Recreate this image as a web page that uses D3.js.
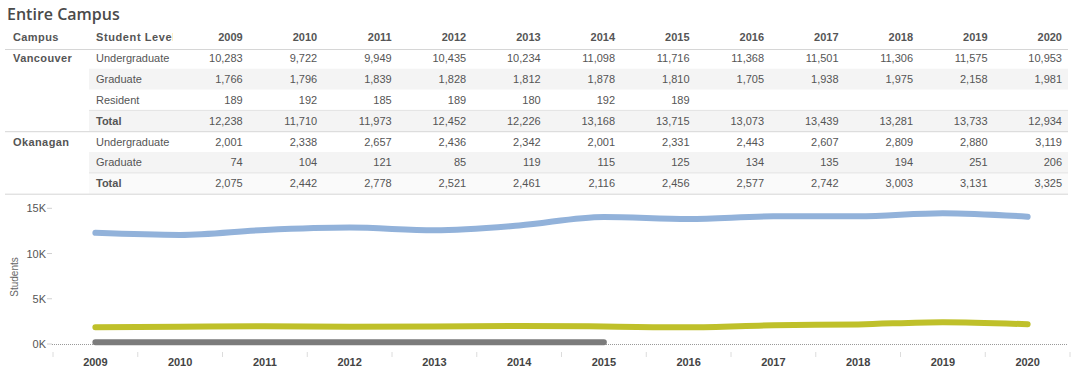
<!DOCTYPE html>
<html>
<head>
<meta charset="utf-8">
<script src="https://cdn.jsdelivr.net/npm/d3@7"></script>
<style>
  html, body { margin: 0; padding: 0; background: #fff; }
  svg { display: block; }
  text { font-family: "Liberation Sans", Arial, sans-serif; }
  text.title { font-family: "Open Sans", sans-serif; }
</style>
</head>
<body>
<svg id="chart" width="1080" height="383"></svg>
<script>
// ---------- data ----------
const years = [2009, 2010, 2011, 2012, 2013, 2014, 2015, 2016, 2017, 2018, 2019, 2020];
const vanUndergrad = [10283, 9722, 9949, 10435, 10234, 11098, 11716, 11368, 11501, 11306, 11575, 10953];
const vanGraduate  = [1766, 1796, 1839, 1828, 1812, 1878, 1810, 1705, 1938, 1975, 2158, 1981];
const vanResident  = [189, 192, 185, 189, 180, 192, 189, null, null, null, null, null];
const vanTotal     = [12238, 11710, 11973, 12452, 12226, 13168, 13715, 13073, 13439, 13281, 13733, 12934];
const okaUndergrad = [2001, 2338, 2657, 2436, 2342, 2001, 2331, 2443, 2607, 2809, 2880, 3119];
const okaGraduate  = [74, 104, 121, 85, 119, 115, 125, 134, 135, 194, 251, 206];
const okaTotal     = [2075, 2442, 2778, 2521, 2461, 2116, 2456, 2577, 2742, 3003, 3131, 3325];
const yTicks = [0, 5000, 10000, 15000];
const yTickLabels = ["0K", "5K", "10K", "15K"];

const tableRows = [
  { campus: "Vancouver", level: "Undergraduate", values: vanUndergrad, total: false },
  { campus: "",          level: "Graduate",      values: vanGraduate,  total: false },
  { campus: "",          level: "Resident",      values: vanResident,  total: false },
  { campus: "",          level: "Total",         values: vanTotal,     total: true },
  { campus: "Okanagan",  level: "Undergraduate", values: okaUndergrad, total: false },
  { campus: "",          level: "Graduate",      values: okaGraduate,  total: false },
  { campus: "",          level: "Total",         values: okaTotal,     total: true }
];
const shadedRows = [1, 3, 5];

// chart series aggregated by student level across campuses
const series = [
  { name: "Undergraduate", color: "#92b2da", values: years.map((y, i) => vanUndergrad[i] + okaUndergrad[i]) },
  { name: "Graduate",      color: "#bfc02a", values: years.map((y, i) => vanGraduate[i] + okaGraduate[i]) },
  { name: "Resident",      color: "#7c7c7c", values: vanResident }
];

const svg = d3.select("#chart");
const fmt = d3.format(",");
const textCol = "#555";

// ---------- title ----------
svg.append("text").attr("class", "title").attr("x", 7).attr("y", 20)
  .attr("font-size", 16).attr("font-weight", 600).attr("fill", "#4a4a4a")
  .text("Entire Campus");

// ---------- table ----------
const colX = d3.scalePoint().domain(years).range([242.7, 1062]);
const rowY = d3.scaleLinear().domain([0, 6]).range([58.3, 183.3]);
const rowH = 20.8;
const tableLeft = 5, tableRight = 1068, levelLeft = 89;

// shading
svg.append("g").selectAll("rect").data(shadedRows).join("rect")
  .attr("x", levelLeft).attr("width", tableRight - levelLeft)
  .attr("y", d => rowY(d) - rowH / 2).attr("height", rowH)
  .attr("fill", "#f4f4f4");
svg.append("rect").attr("x", levelLeft).attr("width", tableRight - levelLeft)
  .attr("y", rowY(6) - rowH / 2).attr("height", rowH).attr("fill", "#fafafa");

// lines
const hLines = [
  { y: 49.5, x0: tableLeft, c: "#d6d6d6" },
  { y: rowY(3) + rowH / 2 + 0.5, x0: tableLeft, c: "#d6d6d6" },
  { y: rowY(6) + rowH / 2 + 0.5, x0: tableLeft, c: "#d6d6d6" },
  { y: rowY(3) - rowH / 2, x0: levelLeft, c: "#e2e2e2" },
  { y: rowY(6) - rowH / 2, x0: levelLeft, c: "#e2e2e2" }
];
svg.append("g").selectAll("line").data(hLines).join("line")
  .attr("x1", d => d.x0).attr("x2", tableRight)
  .attr("y1", d => d.y).attr("y2", d => d.y)
  .attr("stroke", d => d.c).attr("stroke-width", 1);

// header
const header = svg.append("g").attr("font-size", 11).attr("font-weight", "bold").attr("fill", textCol);
header.append("text").attr("x", 13).attr("y", 41).attr("letter-spacing", 0.4).text("Campus");
svg.append("clipPath").attr("id", "lvlclip").append("rect").attr("x", 90).attr("y", 25).attr("width", 83).attr("height", 20);
header.append("text").attr("x", 96).attr("y", 41).attr("letter-spacing", 0.6).attr("clip-path", "url(#lvlclip)").text("Student Level");
header.selectAll(".yh").data(years).join("text").attr("class", "yh")
  .attr("x", d => colX(d)).attr("y", 41).attr("text-anchor", "end").text(d => d);

// body
const body = svg.append("g").attr("font-size", 11).attr("fill", textCol);
tableRows.forEach((r, i) => {
  const y = rowY(i) + 4;
  if (r.campus) {
    body.append("text").attr("x", 13).attr("y", y).attr("font-weight", "bold")
      .attr("letter-spacing", 0.4).text(r.campus);
  }
  body.append("text").attr("x", 96).attr("y", y)
    .attr("font-weight", r.total ? "bold" : "normal").text(r.level);
  body.append("g").selectAll("text").data(years.map((yr, j) => ({ yr, v: r.values[j] })).filter(d => d.v != null))
    .join("text").attr("x", d => colX(d.yr)).attr("y", y).attr("text-anchor", "end")
    .text(d => fmt(d.v));
});

// ---------- line chart ----------
const x = d3.scaleBand().domain(years).range([53, 1070]);
const y = d3.scaleLinear().domain([0, 15000]).range([344, 208.3]);

// y axis
const yAxis = svg.append("g");
yAxis.selectAll("line").data(yTicks).join("line")
  .attr("x1", 47).attr("x2", 52).attr("y1", d => y(d)).attr("y2", d => y(d))
  .attr("stroke", "#d0d0d0");
yAxis.selectAll("text").data(yTicks).join("text")
  .attr("x", 46).attr("y", d => y(d) + 4).attr("text-anchor", "end")
  .attr("font-size", 11).attr("fill", textCol)
  .text((d, i) => yTickLabels[i]);
svg.append("text").attr("transform", `translate(18,${277}) rotate(-90)`)
  .attr("text-anchor", "middle").attr("font-size", 10).attr("fill", "#666")
  .text("Students");

// zero line
svg.append("line").attr("x1", 52).attr("x2", 1068).attr("y1", y(0) + 0.5).attr("y2", y(0) + 0.5)
  .attr("stroke", "#999").attr("stroke-dasharray", "1,1");

// x axis
const bounds = years.map(d => x(d)).concat([x(years[years.length - 1]) + x.bandwidth()]);
svg.append("g").selectAll("line").data(bounds).join("line")
  .attr("x1", d => d).attr("x2", d => d).attr("y1", 352).attr("y2", 357)
  .attr("stroke", "#dcdcdc");
svg.append("g").selectAll("text").data(years).join("text")
  .attr("x", d => x(d) + x.bandwidth() / 2).attr("y", 366)
  .attr("text-anchor", "middle").attr("font-size", 11).attr("font-weight", "bold").attr("fill", "#444")
  .text(d => d);

// lines
const line = d3.line()
  .defined(d => d.v != null)
  .x(d => x(d.yr) + x.bandwidth() / 2)
  .y(d => y(d.v))
  .curve(d3.curveMonotoneX);
svg.append("g").selectAll("path").data(series.slice().reverse()).join("path")
  .attr("d", s => line(years.map((yr, i) => ({ yr, v: s.values[i] }))))
  .attr("fill", "none").attr("stroke", s => s.color)
  .attr("stroke-width", 6).attr("stroke-linecap", "round").attr("stroke-linejoin", "round");
</script>
</body>
</html>
